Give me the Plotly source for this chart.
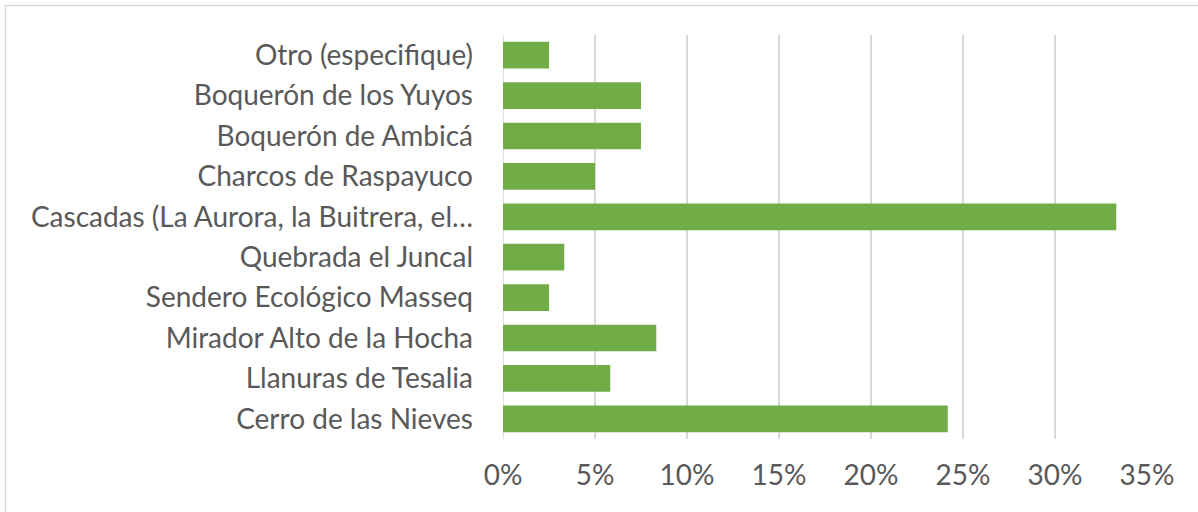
import plotly.graph_objects as go

categorias = [
    'Cerro de las Nieves',
    'Llanuras de Tesalia',
    'Mirador Alto de la Hocha',
    'Sendero Ecológico Masseq',
    'Quebrada el Juncal',
    'Cascadas (La Aurora, la Buitrera, el…',
    'Charcos de Raspayuco',
    'Boquerón de Ambicá',
    'Boquerón de los Yuyos',
    'Otro (especifique)',
]
porcentajes = [0.2417, 0.0583, 0.0833, 0.025, 0.0333, 0.3333, 0.05, 0.075, 0.075, 0.025]
ticks_x = [0, 0.05, 0.10, 0.15, 0.20, 0.25, 0.30, 0.35]

W, H = 1198, 512
L, R, T, B = 503, 51, 35, 73
pw, ph = W - L - R, H - T - B

fig = go.Figure(go.Bar(
    x=porcentajes,
    y=categorias,
    orientation='h',
    marker={'color': '#70AD47', 'line': {'width': 0}},
    hoverinfo='skip',
))

fig.update_layout(
    width=W, height=H,
    margin={'l': L, 'r': R, 't': T, 'b': B, 'pad': 0, 'autoexpand': False},
    plot_bgcolor='white',
    paper_bgcolor='white',
    bargap=0.34,
    showlegend=False,
    font={'family': 'Lato, sans-serif', 'size': 28, 'color': '#595959'},
    xaxis={
        'range': [0, 0.35],
        'tickvals': ticks_x,
        'tickformat': '.0%',
        'showgrid': True,
        'gridcolor': '#D9D9D9',
        'gridwidth': 1.5,
        'zeroline': False,
        'showline': False,
        'ticks': '',
        'ticklabelstandoff': 17,
        'automargin': False,
        'fixedrange': True,
    },
    yaxis={
        'showgrid': False,
        'zeroline': False,
        'showline': False,
        'ticks': '',
        'ticklabelstandoff': 29,
        'automargin': False,
        'fixedrange': True,
    },
    shapes=[
        # chart border (left and top edges visible)
        {
            'type': 'rect', 'xref': 'paper', 'yref': 'paper',
            'x0': (5.5 - L) / pw, 'x1': (W + 5 - L) / pw,
            'y0': -(B + 5) / ph, 'y1': 1 + (T - 5.5) / ph,
            'line': {'color': '#D9D9D9', 'width': 1.5},
            'layer': 'below',
        },
        # 0% axis line
        {
            'type': 'line', 'xref': 'x', 'yref': 'paper',
            'x0': 0, 'x1': 0, 'y0': 0, 'y1': 1,
            'line': {'color': '#D9D9D9', 'width': 1.5},
            'layer': 'below',
        },
    ],
)

# drop the default 8px page margin so the figure sits at the window origin
fig.write_html(
    'out.html',
    config={'displayModeBar': False},
    post_script="document.body.style.margin='0';",
)
